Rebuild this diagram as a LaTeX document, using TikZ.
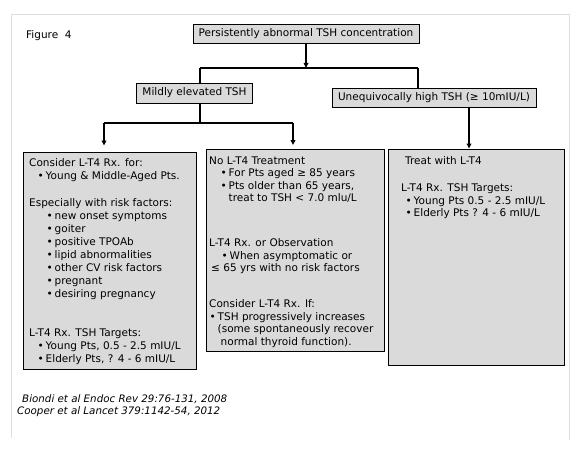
\documentclass[tikz,border=0pt]{standalone}
\usepackage{fontspec}
\setmainfont{DejaVu Sans}[ItalicFont={DejaVu Sans Oblique}]
\usetikzlibrary{arrows.meta}
\definecolor{boxfill}{RGB}{218,218,218}
\definecolor{framegray}{RGB}{222,222,222}
\newcommand\bl[1]{\makebox[8pt][l]{•}#1}
\begin{document}
\begin{tikzpicture}[x=1pt,y=-1pt,
  box/.style={draw=black,line width=0.9pt,fill=boxfill,inner sep=0pt},
  txt/.style={anchor=west,inner sep=0pt,text height=7.6pt,text depth=0pt,
    font=\fontsize{10.5}{12}\selectfont},
  cite/.style={txt,font=\fontsize{10.3}{12}\selectfont\itshape},
  conn/.style={line width=1.3pt},
  arr/.style={conn,-{Triangle[length=5pt,width=4.6pt]}}]
\fill[white] (0,0) rectangle (580,449);
\useasboundingbox (0,0) rectangle (580,449);
% faint frame
\draw[framegray,line width=1pt] (11,438) -- (11,15) -- (569,15) -- (569,440);

\node[txt] (fig) at (26,35) {Figure~~4};

% boxes
\node[box,minimum width=226pt,minimum height=19pt,font=\fontsize{10.5}{12}\selectfont] (top) at (306,33.5) {Persistently abnormal TSH concentration};
\node[box,minimum width=116pt,minimum height=20pt,font=\fontsize{10.5}{12}\selectfont] (mild) at (194.5,93) {Mildly elevated TSH};
\node[box,minimum width=204pt,minimum height=19pt,font=\fontsize{10.5}{12}\selectfont] (uneq) at (434,97.5) {Unequivocally high TSH (≥ 10mIU/L)};
\node[box,minimum width=173pt,minimum height=217pt] (leftbox) at (109.5,260.5) {};
\node[box,minimum width=178pt,minimum height=201.5pt] (midbox) at (295,250.25) {};
\node[box,minimum width=176pt,minimum height=216pt] (rightbox) at (476,257) {};

% connectors
\coordinate (jl) at (200,68);
\coordinate (jr) at (418,68);
\coordinate (j2) at (200,123);
\coordinate (j2l) at (104,123);
\coordinate (j2r) at (293,123);
\draw[arr] (top.south) -- (top.south |- jl);
\draw[conn] (jl) -- (jr);
\draw[conn] (jl) -- (jl |- mild.north);
\draw[conn] (jr) -- (jr |- uneq.north);
\draw[conn] (mild.south -| j2) -- (j2);
\draw[conn] (j2l) -- (j2r);
\draw[arr,shorten >=6pt] (j2l) -- (j2l |- leftbox.north);
\draw[arr,shorten >=4pt] (j2r) -- (j2r |- midbox.north);
\draw[arr] ([xshift=35pt]uneq.south) -- ([xshift=35pt]uneq.south |- rightbox.north);

% left box text
\node[txt] (l1) at (29,162.5) {Consider L-T4 Rx. for:};
\node[txt] (l2) at (37.5,175.5) {\bl{Young \& Middle-Aged Pts.}};
\node[txt] (l3) at (29,203) {Especially with risk factors:};
\node[txt] (l4) at (46.5,216) {\bl{new onset symptoms}};
\node[txt] (l5) at (46.5,229) {\bl{goiter}};
\node[txt] (l6) at (46.5,242) {\bl{positive TPOAb}};
\node[txt] (l7) at (46.5,255) {\bl{lipid abnormalities}};
\node[txt] (l8) at (46.5,268) {\bl{other CV risk factors}};
\node[txt] (l9) at (46.5,281) {\bl{pregnant}};
\node[txt] (l10) at (46.5,294) {\bl{desiring pregnancy}};
\node[txt] (l11) at (29,333) {L-T4 Rx. TSH Targets:};
\node[txt] (l12) at (37.5,346) {\bl{Young Pts, 0.5 - 2.5 mIU/L}};
\node[txt] (l13) at (37.5,358.5) {\bl{Elderly Pts, ? 4 - 6 mIU/L}};

% middle box text
\node[txt] (m1) at (209,160.5) {No L-T4 Treatment};
\node[txt] (m2) at (220.5,173) {\bl{For Pts aged ≥ 85 years}};
\node[txt] (m3) at (220.5,185.5) {\bl{Pts older than 65 years,}};
\node[txt] (m4) at (228.5,198) {treat to TSH < 7.0 mlu/L};
\node[txt] (m5) at (209,243) {L-T4 Rx. or Observation};
\node[txt] (m6) at (221.5,255.5) {\bl{When asymptomatic or}};
\node[txt] (m7) at (211,268) {≤ 65 yrs with no risk factors};
\node[txt] (m8) at (209,304) {Consider L-T4 Rx. If:};
\node[txt] (m9) at (209.5,316.5) {\bl{TSH progressively increases}};
\node[txt] (m10) at (217.5,329) {(some spontaneously recover};
\node[txt] (m11) at (220.5,341.5) {normal thyroid function).};

% right box text
\node[txt] (r1) at (405,160.5) {Treat with L-T4};
\node[txt] (r2) at (401,187.5) {L-T4 Rx. TSH Targets:};
\node[txt] (r3) at (405.5,200.5) {\bl{Young Pts 0.5 - 2.5 mIU/L}};
\node[txt] (r4) at (405.5,213) {\bl{Elderly Pts ? 4 - 6 mIU/L}};

% citations
\node[cite] (c1) at (22,399) {Biondi et al Endoc Rev 29:76-131, 2008};
\node[cite] (c2) at (17,411) {Cooper et al Lancet 379:1142-54, 2012};
\end{tikzpicture}
\end{document}
